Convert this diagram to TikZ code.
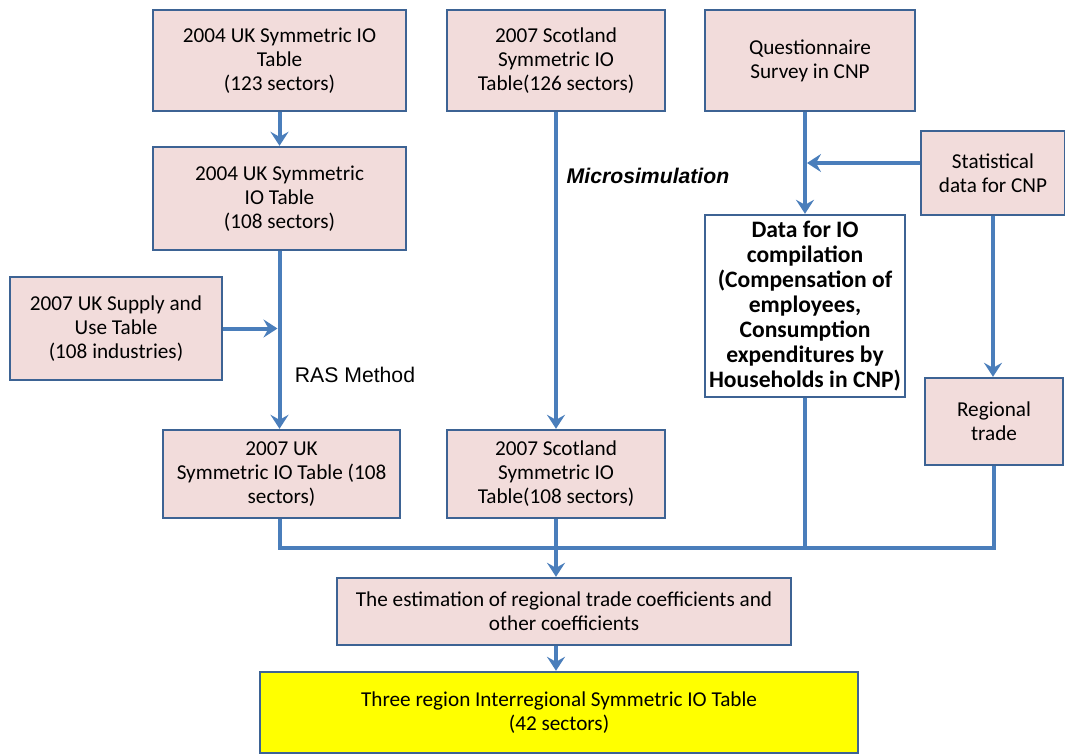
\documentclass[tikz,border=0pt]{standalone}
\usepackage{fontspec}
\setmainfont{Carlito}
\newfontfamily\arialfont{Liberation Sans}
\usetikzlibrary{arrows.meta}
\definecolor{boxfill}{HTML}{F2DCDB}
\definecolor{boxline}{HTML}{3D6394}
\definecolor{flowline}{HTML}{4A7EBB}
\definecolor{tablefill}{HTML}{FFFF00}
\begin{document}
\begin{tikzpicture}[x=0.5pt,y=-0.5pt,
    every node/.style={font=\fontsize{10.6}{12}\selectfont},
    box/.style={draw=boxline, line width=1.2pt, fill=boxfill, align=center, inner sep=0pt},
    flow/.style={draw=flowline, line width=2pt},
    arr/.style={flow, -{Stealth[length=7pt,width=9pt,inset=2.5pt]}}]
      \useasboundingbox (0,0) rectangle (1065,755);
      \node[box, minimum width=126.5pt, minimum height=50.5pt] (uk04a) at (279.5,60.5)
        {2004 UK Symmetric IO\\Table\\(123 sectors)};
      \node[box, minimum width=126.5pt, minimum height=51.5pt] (uk04b) at (279.5,198.5)
        {2004 UK Symmetric\\IO Table\\(108 sectors)};
      \node[box, minimum width=109pt, minimum height=50.5pt] (sc07a) at (556,60.5)
        {2007 Scotland\\Symmetric IO\\Table(126 sectors)};
      \node[box, minimum width=105pt, minimum height=50.5pt] (survey) at (810,60.5)
        {Questionnaire\\Survey in CNP};
      \node[box, minimum width=72pt, minimum height=42pt] (stat) at (993,173)
        {Statistical\\data for CNP};
      \node[box, fill=white, minimum width=100pt, minimum height=91pt,
        font=\fontsize{11.8}{12.5}\selectfont\bfseries] (iodata) at (805,306)
        {Data for IO\\compilation\\(Compensation of\\employees,\\Consumption\\expenditures by\\Households in CNP)};
      \node[box, minimum width=106pt, minimum height=51.5pt] (sut07) at (116,328.5)
        {2007 UK Supply and\\Use Table\\(108 industries)};
      \node[box, minimum width=118.5pt, minimum height=44pt] (uk07) at (281.5,474)
        {2007 UK\\Symmetric IO Table (108\\sectors)};
      \node[box, minimum width=109pt, minimum height=44pt] (sc07b) at (556,474)
        {2007 Scotland\\Symmetric IO\\Table(108 sectors)};
      \node[box, minimum width=69pt, minimum height=43.5pt] (trade) at (994,421.5)
        {Regional\\trade};
      \node[box, minimum width=227pt, minimum height=33.5pt] (coef) at (564,611.5)
        {The estimation of regional trade coefficients and\\other coefficients};
      \node[box, fill=tablefill, minimum width=299pt, minimum height=40.5pt] (irio) at (559,712.5)
        {Three region Interregional Symmetric IO Table\\(42 sectors)};
      \node[font=\fontsize{10.6}{12}\arialfont] (ras) at (355,375) {RAS Method};
      \node[font=\fontsize{10.6}{12}\arialfont\bfseries\itshape] (micro) at (648,176) {Microsimulation};
      \coordinate (bus) at (0,548);
      \begin{scope}[arr]
        \draw (uk04a) to (uk04b);
        \draw (uk04b.south) to (uk04b.south |- uk07.north);
        \draw (sut07.east) to ([xshift=-1pt]sut07.east -| uk04b.south);
        \draw (sc07a) to (sc07b);
        \draw (iodata.north |- survey.south) to (iodata.north);
        \draw ([yshift=5pt]stat.west) to ([xshift=1pt,yshift=5pt]stat.west -| iodata.north);
        \draw (stat.south) to (stat.south |- trade.north);
        \draw (sc07b.south |- bus) to (sc07b.south |- coef.north);
        \draw (sc07b.south |- coef.south) to (sc07b.south |- irio.north);
      \end{scope}
      \begin{scope}[flow]
        \draw (uk04b.south |- uk07.south) -- (uk04b.south |- bus) -- (trade.south |- bus) -- (trade.south);
        \draw (sc07b.south) to (sc07b.south |- bus);
        \draw (iodata.south) to (iodata.south |- bus);
      \end{scope}
    \end{tikzpicture}
\end{document}
